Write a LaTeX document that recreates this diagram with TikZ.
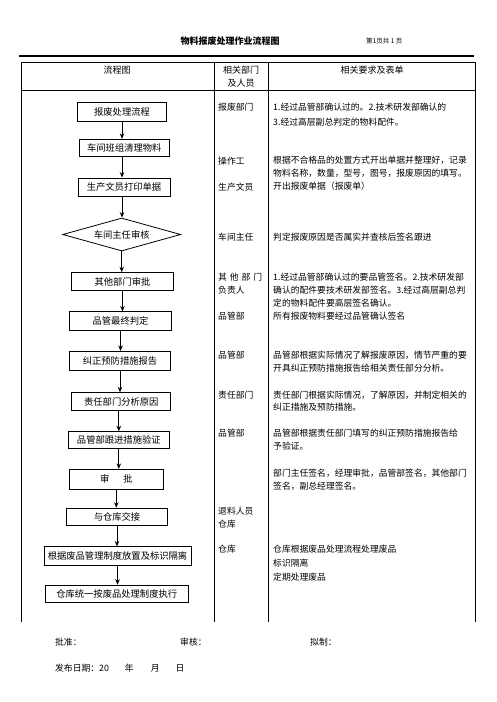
\documentclass[tikz,border=0pt]{standalone}
\usepackage{fontspec}
\setmainfont{Noto Sans CJK SC}
\usetikzlibrary{shapes.geometric,arrows.meta}
\tikzset{
  box/.style={draw, line width=0.8pt, inner sep=0pt, font=\fontsize{9.3}{11}\selectfont},
  arr/.style={-{Stealth[length=5.5pt,width=4.5pt]}, line width=0.9pt},
  txt/.style={anchor=west, inner sep=0pt, font=\fontsize{8.8}{11}\selectfont},
  hdr/.style={inner sep=0pt, font=\fontsize{9}{11}\selectfont},
  rule/.style={line width=0.9pt}
}
\begin{document}
\begin{tikzpicture}[x=1pt,y=-1pt]
\path[use as bounding box, fill=white] (0,0) rectangle (496,702);
% title
\node[hdr, font=\fontsize{9}{11}\selectfont\bfseries] (title) at (230,41) {物料报废处理作业流程图};
\node[hdr, font=\fontsize{6.5}{8}\selectfont, anchor=west] (page) at (366,41) {第1页共 1 页};
\draw[line width=1.1pt] (19,56) -- (474,56);
% table
\draw[rule] (21,622) -- (21,62) -- (475,62) -- (475,622);
\draw[rule] (21,90) -- (475,90);
\draw[rule] (214,62) -- (214,622);
\draw[rule] (268,62) -- (268,622);
\node[hdr] (h1) at (117,70) {流程图};
\node[hdr] (h2) at (241,70) {相关部门};
\node[hdr] (h2b) at (241,83) {及人员};
\node[hdr] (h3) at (372,70) {相关要求及表单};
% flowchart
\node[box, minimum width=89pt, minimum height=19pt] (b1) at (122,112) {报废处理流程};
\node[box, minimum width=90pt, minimum height=17.5pt] (b2) at (124.3,148) {车间班组清理物料};
\node[box, minimum width=92pt, minimum height=18pt] (b3) at (124,187) {生产文员打印单据};
\node[box, diamond, aspect=3.6, minimum width=118pt, minimum height=33pt] (b4) at (121.7,234.5) {车间主任审核};
\node[box, minimum width=102pt, minimum height=18pt] (b5) at (122.5,281.7) {其他部门审批};
\node[box, minimum width=102pt, minimum height=18.3pt] (b6) at (120.5,321) {品管最终判定};
\node[box, minimum width=101pt, minimum height=19.3pt] (b7) at (120,361) {纠正预防措施报告};
\node[box, minimum width=99pt, minimum height=18pt] (b8) at (121.3,401.7) {责任部门分析原因};
\node[box, minimum width=101pt, minimum height=16.6pt] (b9) at (118.8,440) {品管部跟进措施验证};
\node[box, minimum width=94pt, minimum height=20pt] (b10) at (116.3,479.3) {审\hspace{14pt}批};
\node[box, minimum width=101pt, minimum height=17.7pt] (b11) at (117,517) {与仓库交接};
\node[box, minimum width=147pt, minimum height=18.3pt] (b12) at (117.5,556) {根据废品管理制度放置及标识隔离};
\node[box, minimum width=143pt, minimum height=17.7pt] (b13) at (116.7,594) {仓库统一按废品处理制度执行};
\draw[arr] (b1.south) -- (b1.south |- b2.north);
\draw[arr] (b2.south -| b1.south) -- (b1.south |- b3.north);
\draw[arr] (b3.south -| b1.south) -- (b1.south |- b4.north);
\draw[arr] (b4.south) -- (b4.south |- b5.north);
\draw[arr] (b5.south) -- (b5.south |- b6.north);
\draw[arr] (b6.south) -- (b6.south |- b7.north);
\draw[arr] (b7.south) -- (b7.south |- b8.north);
\draw[arr] (b8.south -| b9.south) -- (b9.north);
\draw[arr] (b9.south) -- (b9.south |- b10.north);
\draw[arr] (b10.south) -- (b10.south |- b11.north);
\draw[arr] (b11.south) -- (b11.south |- b12.north);
\draw[arr] (b12.south) -- (b12.south |- b13.north);
% column 2
\node[txt] (c1) at (218,106.7) {报废部门};
\node[txt] (c2) at (218,160.7) {操作工};
\node[txt] (c3) at (218,186.7) {生产文员};
\node[txt] (c4) at (218,236.7) {车间主任};
\node[txt] (c5) at (218,277.3) {\makebox[44pt][s]{其\hfill 他\hfill 部\hfill 门}};
\node[txt] (c5b) at (218,290) {负责人};
\node[txt] (c6) at (218,316) {品管部};
\node[txt] (c7) at (218,355) {品管部};
\node[txt] (c8) at (218,395) {责任部门};
\node[txt] (c9) at (218,433.3) {品管部};
\node[txt] (c10) at (218,511) {退料人员};
\node[txt] (c10b) at (218,524) {仓库};
\node[txt] (c11) at (218,549.3) {仓库};
% column 3
\node[txt] (r1a) at (273,106.7) {1.经过品管部确认过的。2.技术研发部确认的};
\node[txt] (r1b) at (273,121.7) {3.经过高层副总判定的物料配件。};
\node[txt] (r2a) at (273,160.7) {根据不合格品的处置方式开出单据并整理好，记录};
\node[txt] (r2b) at (273,173.3) {物料名称，数量，型号，图号，报废原因的填写。};
\node[txt] (r2c) at (273,186) {开出报废单据（报废单）};
\node[txt] (r3) at (273,236.7) {判定报废原因是否属实并查核后签名跟进};
\node[txt] (r4a) at (273,277.3) {1.经过品管部确认过的要品管签名。2.技术研发部};
\node[txt] (r4b) at (273,290.3) {确认的配件要技术研发部签名。3.经过高层副总判};
\node[txt] (r4c) at (273,303.3) {定的物料配件要高层签名确认。};
\node[txt] (r5) at (273,316) {所有报废物料要经过品管确认签名};
\node[txt] (r6a) at (273,355) {品管部根据实际情况了解报废原因，情节严重的要};
\node[txt] (r6b) at (273,368.3) {开具纠正预防措施报告给相关责任部分分析。};
\node[txt] (r7a) at (273,395) {责任部门根据实际情况，了解原因，并制定相关的};
\node[txt] (r7b) at (273,407.3) {纠正措施及预防措施。};
\node[txt] (r8a) at (273,433.3) {品管部根据责任部门填写的纠正预防措施报告给};
\node[txt] (r8b) at (273,446) {予验证。};
\node[txt] (r9a) at (273,473.3) {部门主任签名，经理审批，品管部签名，其他部门};
\node[txt] (r9b) at (273,486) {签名，副总经理签名。};
\node[txt] (r10a) at (273,549.3) {仓库根据废品处理流程处理废品};
\node[txt] (r10b) at (273,563.3) {标识隔离};
\node[txt] (r10c) at (273,576.7) {定期处理废品};
% footer
\node[txt] (f1) at (55,641.7) {批准：};
\node[txt] (f2) at (180,641.7) {审核：};
\node[txt] (f3) at (310,641.7) {拟制：};
\node[txt] (f4) at (55,668.3) {发布日期：20\hspace{16pt}年\hspace{17pt}月\hspace{16pt}日};
\end{tikzpicture}
\end{document}
